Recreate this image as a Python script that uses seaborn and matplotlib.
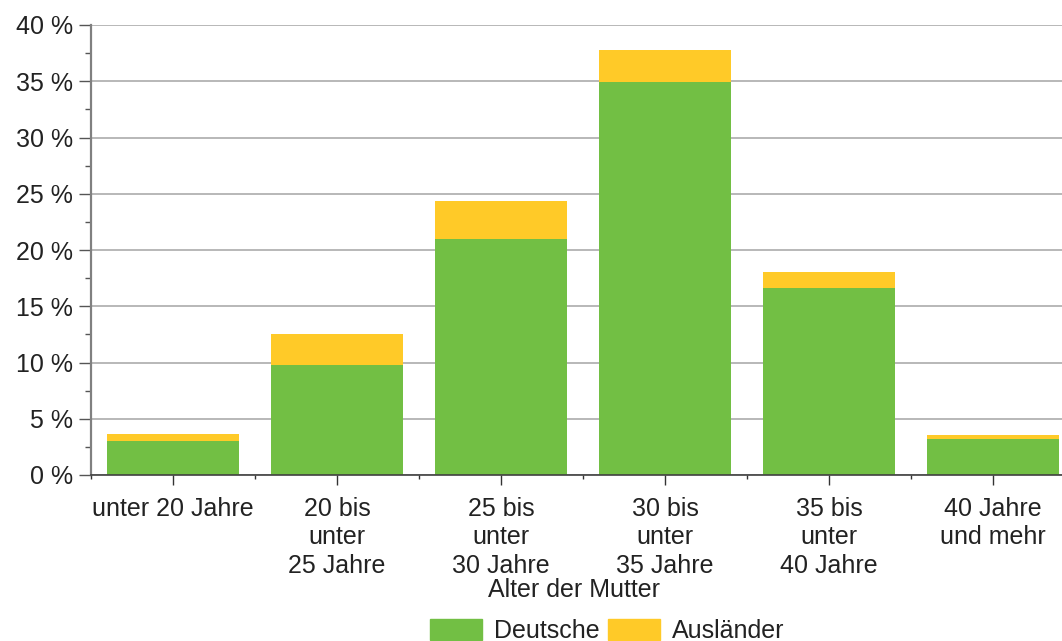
import pandas as pd
import numpy as np
import matplotlib.pyplot as plt
import seaborn as sns
from matplotlib.patches import Patch
from matplotlib.ticker import MultipleLocator, FuncFormatter

categories = ["unter 20 Jahre", "20 bis\nunter\n25 Jahre", "25 bis\nunter\n30 Jahre",
              "30 bis\nunter\n35 Jahre", "35 bis\nunter\n40 Jahre", "40 Jahre\nund mehr"]
deutsche = [3.04, 9.8, 21.0, 34.9, 16.65, 3.2]
auslaender = [0.62, 2.76, 3.4, 2.85, 1.43, 0.37]

green = "#72BF44"
yellow = "#FFCA28"

sns.set_theme(style="white")
plt.rcParams['font.family'] = ['Liberation Sans', 'DejaVu Sans']

df = pd.DataFrame({"kategorie": categories, "Deutsche": deutsche, "Ausländer": auslaender})
df["gesamt"] = df["Deutsche"] + df["Ausländer"]

fig = plt.figure(figsize=(10.62, 6.41), dpi=100)
ax = fig.add_axes([91 / 1062, 166 / 641, 971 / 1062, 450 / 641])

sns.barplot(data=df, x="kategorie", y="gesamt", color=yellow, width=0.805,
            saturation=1, ax=ax, zorder=3)
sns.barplot(data=df, x="kategorie", y="Deutsche", color=green, width=0.805,
            saturation=1, ax=ax, zorder=3)
for p in ax.patches:
    p.set_linewidth(0)

ax.yaxis.set_major_locator(MultipleLocator(5))
ax.yaxis.set_minor_locator(MultipleLocator(2.5))
ax.yaxis.set_major_formatter(FuncFormatter(lambda v, _: f"{v:.0f} %"))
ax.grid(axis="y", color="#B8B8B8", linewidth=1.4, zorder=0)

ax.set_xticks(range(len(categories)))
ax.set_xticklabels(categories, linespacing=1.25)
ax.set_xticks(np.arange(-0.5, len(categories), 1), minor=True)
ax.set_ylim(0, 40)
ax.set_xlim(-0.5, -0.5 + 971 / 164)

ax.tick_params(axis="y", which="major", length=9, width=1, color="#555555",
               labelsize=18, labelcolor="#222222", pad=4, left=True)
ax.tick_params(axis="y", which="minor", length=4.5, width=1, color="#555555", left=True)
ax.tick_params(axis="x", which="major", length=7.5, width=1, color="#333333",
               labelsize=18, labelcolor="#222222", pad=8, bottom=True)
ax.tick_params(axis="x", which="minor", length=3, width=1, color="#333333", bottom=True)

ax.set_xlabel("")
ax.set_ylabel("")
for s in ["top", "right"]:
    ax.spines[s].set_visible(False)
ax.spines["left"].set_color("#808080")
ax.spines["left"].set_linewidth(1.6)
ax.spines["bottom"].set_color("#404040")
ax.spines["bottom"].set_linewidth(1.2)
ax.spines["bottom"].set_zorder(4)

fig.text(574 / 1062, 1 - 590 / 641, "Alter der Mutter", ha="center", va="center",
         fontsize=18, color="#222222")

handles = [Patch(color=green, label="Deutsche"), Patch(color=yellow, label="Ausländer")]
fig.legend(handles=handles, loc="lower center", bbox_to_anchor=(607 / 1062, -0.034),
           ncol=2, frameon=False, fontsize=18, handlelength=2.1, handleheight=0.9,
           handletextpad=0.45, columnspacing=0.35, labelcolor="#222222", borderpad=0.3)

fig.savefig("out.png", dpi=100)
